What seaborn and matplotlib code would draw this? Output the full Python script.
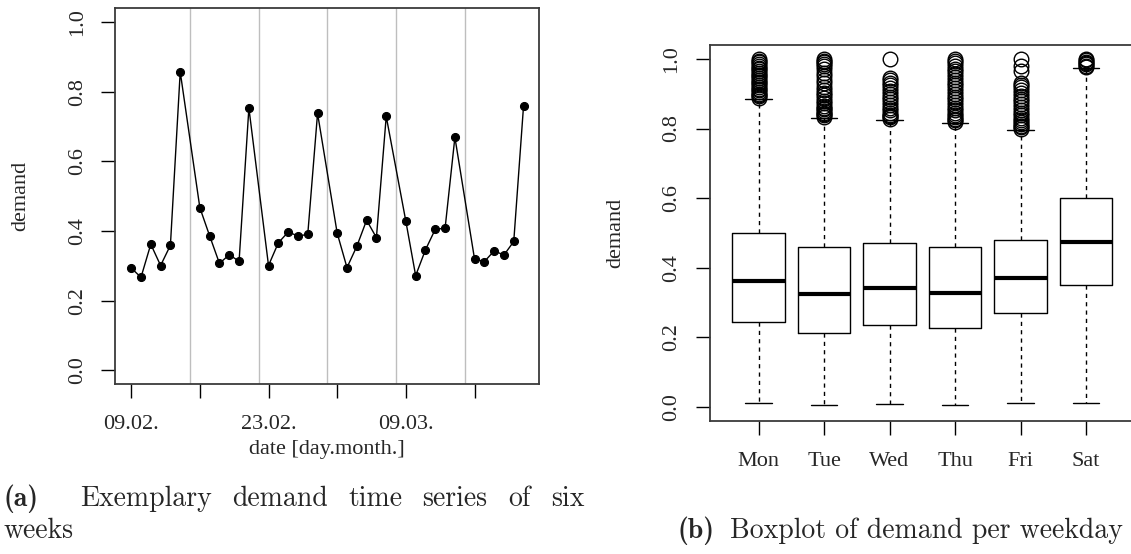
import matplotlib
matplotlib.use("Agg")
import matplotlib.pyplot as plt
import pandas as pd
import seaborn as sns

# ---- data -------------------------------------------------------------
# six weeks of daily demand, Monday to Saturday (Sundays closed)
start_date = "2015-02-09"
end_date = "2015-03-21"
demand = [0.294, 0.267, 0.362, 0.301, 0.359, 0.857,
          0.467, 0.386, 0.307, 0.332, 0.313, 0.753,
          0.301, 0.366, 0.397, 0.386, 0.390, 0.738,
          0.394, 0.295, 0.356, 0.431, 0.381, 0.729,
          0.428, 0.272, 0.346, 0.405, 0.408, 0.669,
          0.320, 0.312, 0.343, 0.331, 0.370, 0.760]
week_tick_labels = ["09.02.", "", "23.02.", "", "09.03.", ""]

# per-weekday box statistics of the full demand history
weekdays = ["Mon", "Tue", "Wed", "Thu", "Fri", "Sat"]
whisker_low = [0.011, 0.007, 0.009, 0.005, 0.012, 0.012]
quartile_1 = [0.243, 0.214, 0.237, 0.226, 0.270, 0.352]
median = [0.362, 0.325, 0.341, 0.328, 0.370, 0.475]
quartile_3 = [0.500, 0.460, 0.471, 0.460, 0.480, 0.600]
whisker_high = [0.886, 0.830, 0.825, 0.816, 0.797, 0.973]
outliers_mon = [0.889, 0.893, 0.897, 0.900, 0.905, 0.910, 0.915, 0.920, 0.925,
                0.930, 0.935, 0.940, 0.945, 0.950, 0.955, 0.960, 0.965, 0.970,
                0.975, 0.980, 0.985, 0.990, 0.995, 1.000]
outliers_tue = [0.834, 0.838, 0.842, 0.846, 0.850, 0.855, 0.860, 0.866, 0.872,
                0.880, 0.888, 0.895, 0.902, 0.910, 0.920, 0.930, 0.940, 0.950,
                0.960, 0.970, 0.980, 0.985, 0.990, 0.995, 1.000]
outliers_wed = [0.828, 0.832, 0.836, 0.840, 0.846, 0.852, 0.860, 0.868, 0.876,
                0.884, 0.892, 0.900, 0.908, 0.916, 0.924, 0.932, 0.940, 0.946,
                1.000]
outliers_thu = [0.820, 0.824, 0.828, 0.832, 0.838, 0.845, 0.852, 0.860, 0.868,
                0.876, 0.884, 0.892, 0.900, 0.908, 0.916, 0.924, 0.932, 0.940,
                0.948, 0.956, 0.964, 0.972, 0.980, 0.988, 0.995, 1.000]
outliers_fri = [0.800, 0.804, 0.808, 0.812, 0.818, 0.824, 0.830, 0.838, 0.846,
                0.854, 0.862, 0.870, 0.878, 0.886, 0.894, 0.902, 0.910, 0.918,
                0.926, 0.932, 0.965, 0.980, 1.000]
outliers_sat = [0.977, 0.980, 0.984, 0.988, 0.992, 0.996, 1.000]
outliers = [outliers_mon, outliers_tue, outliers_wed,
            outliers_thu, outliers_fri, outliers_sat]

caption_a_words = ["Exemplary", "demand", "time", "series", "of", "six"]
caption_a_tail = "weeks"
caption_b = "Boxplot of demand per weekday"

# ---- style ------------------------------------------------------------
sns.set_style("white")
plt.rcParams["font.family"] = ["Liberation Serif", "DejaVu Serif"]
FRAME = "#3a3a3a"
TICK_SIZE = 16
FIG_W, FIG_H = 1131, 554

fig = plt.figure(figsize=(FIG_W / 100, FIG_H / 100), dpi=100)
ax1 = fig.add_axes([0.1021, 0.3063, 0.3747, 0.6792])
ax2 = fig.add_axes([0.6278, 0.2401, 0.3753, 0.6787])

# ---- (a) time series --------------------------------------------------
all_days = pd.date_range(start_date, end_date, freq="D")
open_days = all_days[all_days.dayofweek < 6]
series = pd.DataFrame({"date": open_days, "demand": demand})

for sunday in all_days[all_days.dayofweek == 6]:
    ax1.axvline(sunday, color="#bebebe", lw=1.0, zorder=0)

sns.lineplot(data=series, x="date", y="demand", ax=ax1, color="black",
             lw=1.0, marker="o", markersize=5.8, markeredgecolor="black")

mondays = all_days[all_days.dayofweek == 0]
pad_days = pd.Timedelta(days=1.6)
ax1.set_xlim(open_days[0] - pad_days, open_days[-1] + pad_days)
ax1.set_ylim(-0.04, 1.04)
ax1.set_xticks(mondays)
ax1.set_xticklabels(week_tick_labels)
ax1.set_yticks([0.0, 0.2, 0.4, 0.6, 0.8, 1.0])
ax1.set_yticklabels(["0.0", "0.2", "0.4", "0.6", "0.8", "1.0"])
ax1.set_xlabel("date [day.month.]", fontsize=TICK_SIZE, va="top")
ax1.xaxis.set_label_coords(0.5, -0.148)
ax1.set_ylabel("demand", fontsize=TICK_SIZE, va="center")
ax1.yaxis.set_label_coords(-0.223, 0.5)

# ---- (b) boxplot per weekday -----------------------------------------
stats = [dict(label=d, whislo=lo, q1=q1, med=m, q3=q3, whishi=hi, fliers=f)
         for d, lo, q1, m, q3, hi, f in zip(weekdays, whisker_low, quartile_1,
                                             median, quartile_3, whisker_high,
                                             outliers)]
ax2.bxp(stats, positions=range(len(weekdays)), widths=0.8, capwidths=0.4,
        boxprops=dict(color="black", lw=1.0),
        medianprops=dict(color="black", lw=3.0, solid_capstyle="butt"),
        whiskerprops=dict(color="black", lw=1.0, linestyle=(0, (3, 3))),
        capprops=dict(color="black", lw=1.0),
        flierprops=dict(marker="o", markerfacecolor="none",
                        markeredgecolor="black", markersize=10.5,
                        markeredgewidth=1.0))
ax2.set_xlim(-0.74, len(weekdays) - 1 + 0.74)
ax2.set_ylim(-0.04, 1.04)
ax2.set_yticks([0.0, 0.2, 0.4, 0.6, 0.8, 1.0])
ax2.set_yticklabels(["0.0", "0.2", "0.4", "0.6", "0.8", "1.0"])
ax2.set_ylabel("demand", fontsize=TICK_SIZE, va="center")
ax2.yaxis.set_label_coords(-0.222, 0.5)

for ax in (ax1, ax2):
    ax.set_facecolor("white")
    for sp in ax.spines.values():
        sp.set_visible(True)
        sp.set_color(FRAME)
        sp.set_linewidth(1.3)
    ax.tick_params(axis="both", direction="out", length=10, width=1.0,
                   color="black", labelsize=TICK_SIZE, bottom=True, left=True)
    ax.tick_params(axis="x", pad=12)
    ax.tick_params(axis="y", pad=10.5)
    for lab in ax.get_yticklabels():
        lab.set_rotation(90)
        lab.set_va("center")
    ax.grid(False)

# ---- captions ---------------------------------------------------------
CAP = dict(family="cmr10", fontsize=20, va="center")
CAP_BOLD = dict(CAP, family="cmb10")
line1_y = 1 - 499 / FIG_H
line2_y = 1 - 531 / FIG_H

label_a = fig.text(0, line1_y, "(a)", **CAP_BOLD)
words_a = [fig.text(0, line1_y, w, **CAP) for w in caption_a_words]
label_b = fig.text(0, line2_y, "(b)", **CAP_BOLD)
text_b = fig.text(0, line2_y, caption_b, **CAP)
fig.canvas.draw()
renderer = fig.canvas.get_renderer()


def width_px(t):
    return t.get_window_extent(renderer).width


# first caption line is set justified; the label gets a double-width gap
left_px, right_px = 4, 584
tokens = [label_a] + words_a
widths = [width_px(t) for t in tokens]
gap = (right_px - left_px - sum(widths)) / len(tokens)
x = left_px
for i, (t, w) in enumerate(zip(tokens, widths)):
    t.set_x(x / FIG_W)
    x += w + (2 * gap if i == 0 else gap)

fig.text(left_px / FIG_W, line2_y, caption_a_tail, **CAP)

# second caption is centred under the boxplot panel
b_gap = 16
b_total = width_px(label_b) + b_gap + width_px(text_b)
b_left = 900 - b_total / 2
label_b.set_x(b_left / FIG_W)
text_b.set_x((b_left + width_px(label_b) + b_gap) / FIG_W)

fig.savefig("out.png", dpi=100, facecolor="white")
